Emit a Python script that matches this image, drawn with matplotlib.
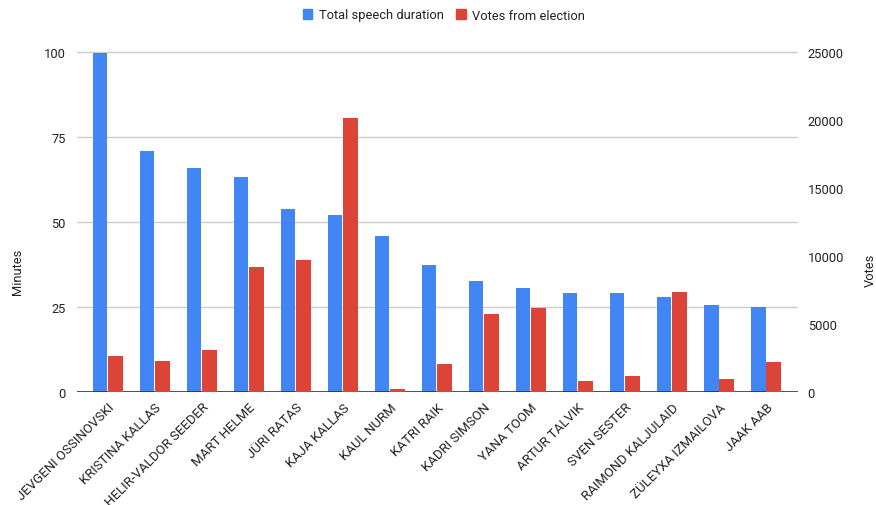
import numpy as np
import matplotlib
matplotlib.use("Agg")
from matplotlib import pyplot as plt
from matplotlib import transforms

plt.rcParams['font.family'] = ['Roboto', 'DejaVu Sans']

# speakers, sorted by total speaking time
names = ["JEVGENI OSSINOVSKI", "KRISTINA KALLAS", "HELIR-VALDOR SEEDER", "MART HELME",
         "JÜRI RATAS", "KAJA KALLAS", "KAUL NURM", "KATRI RAIK", "KADRI SIMSON",
         "YANA TOOM", "ARTUR TALVIK", "SVEN SESTER", "RAIMOND KALJULAID",
         "ZÜLEYXA IZMAILOVA", "JAAK AAB"]
minutes = [99.7, 70.8, 65.9, 63.1, 53.9, 52.0, 45.8, 37.4, 32.6, 30.5, 29.2, 29.2, 27.9, 25.7, 25.1]
votes = [2640, 2270, 3080, 9160, 9720, 20130, 220, 2050, 5760, 6180, 810, 1170, 7330, 920, 2240]

left_ticks = [0, 25, 50, 75, 100]
right_ticks = [0, 5000, 10000, 15000, 20000, 25000]

blue = "#4285F4"
red = "#DB4437"
txt = "#222222"
fs = 9.3

fig = plt.figure(figsize=(8.76, 5.06), dpi=100)
ax = fig.add_axes([77 / 876, 1 - 393 / 506, 721 / 876, 341 / 506])
ax2 = ax.twinx()

x = np.arange(len(names))
w = 0.31
ax.bar(x - w / 2 - 0.01, minutes, width=w, color=blue, zorder=3)
ax2.bar(x + w / 2 + 0.01, votes, width=w, color=red, zorder=3)

ax.set_xlim(-0.65, len(names) - 1 + 0.68)
ax.set_ylim(0, 100.3)
ax2.set_ylim(0, 25075)
ax.set_yticks(left_ticks)
ax2.set_yticks(right_ticks)
ax.yaxis.grid(True, color="#cccccc", linewidth=1, zorder=0)
ax.set_axisbelow(True)

for a in (ax, ax2):
    for s in a.spines.values():
        s.set_visible(False)
    a.tick_params(length=0, labelsize=fs, labelcolor=txt)
ax.axhline(0, color="#333333", linewidth=1.2, zorder=4)
ax.tick_params(axis="y", pad=8)
ax2.tick_params(axis="y", pad=7)

ax.set_xticks(x)
ax.set_xticklabels(names, rotation=45, ha="right", rotation_mode="anchor", fontsize=9.5, color=txt)
shift = transforms.ScaledTranslation(13 / 100, 0, fig.dpi_scale_trans)
for lab in ax.get_xticklabels():
    lab.set_transform(lab.get_transform() + shift)
ax.tick_params(axis="x", pad=6)

fig.text(18 / 876, 1 - 272 / 506, "Minutes", rotation=90, ha="center", va="center", fontsize=fs, color=txt)
fig.text(870 / 876, 1 - 270 / 506, "Votes", rotation=90, ha="center", va="center", fontsize=fs, color=txt)

# legend along the top
h1 = plt.Rectangle((0, 0), 1, 1, color=blue)
h2 = plt.Rectangle((0, 0), 1, 1, color=red)
fig.legend([h1, h2], ["Total speech duration", "Votes from election"], loc="center",
           bbox_to_anchor=(444 / 876, 1 - 16 / 506), ncol=2, frameon=False, fontsize=fs,
           handlelength=0.72, handleheight=0.72, handletextpad=0.5, columnspacing=1.0,
           labelcolor=txt)

fig.savefig("out.png", dpi=100)
